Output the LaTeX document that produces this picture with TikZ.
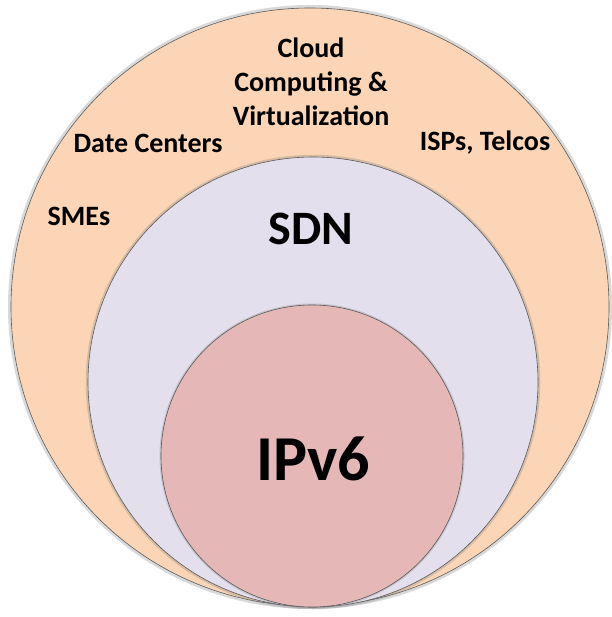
\documentclass[tikz,border=0pt]{standalone}
\usepackage{fontspec}
\setmainfont{Carlito}
\usetikzlibrary{shadows}
\definecolor{peach}{RGB}{251,213,181}
\definecolor{lavender}{RGB}{228,223,236}
\definecolor{rose}{RGB}{229,184,183}
\definecolor{rim}{RGB}{90,90,90}

\begin{document}
\begin{tikzpicture}[x=1pt, y=-1pt,
	ring/.style 2 args={
		circle,
		draw=rim,
		line width=0.6pt,
		fill=#2,
		inner sep=0pt,
		minimum size=#1,
		drop shadow={opacity=0.3, shadow scale=1.01, shadow xshift=0pt, shadow yshift=0pt}},
	lbl/.style 2 args={font=\fontsize{#1}{#2}\selectfont\bfseries, align=center, inner sep=0pt}]
	\useasboundingbox (0,0) rectangle (611,617);
	% draw nested circles, all touching at the bottom
	\node[ring={598pt}{peach}] (outer) at (310,307) {};
	\node[ring={450pt}{lavender}] (sdn) at (313,382) {};
	\node[ring={302pt}{rose}] (ipv6) at (312,456) {};
	% draw labels of the outer ring
	\node[lbl={28}{34}] (cloud) at (311,82) {Cloud\\Computing \&\\Virtualization};
	\node[lbl={28}{34}] (dc) at (148,143) {Date Centers};
	\node[lbl={28}{34}] (isp) at (485,143) {ISPs, Telcos};
	\node[lbl={28}{34}] (sme) at (79,216) {SMEs};
	% draw labels of the inner circles
	\node[lbl={48}{58}] (sdnlbl) at (311,229) {SDN};
	\node[lbl={64}{77}] (ipv6lbl) at (313,459) {IPv6};
\end{tikzpicture}
\end{document}
